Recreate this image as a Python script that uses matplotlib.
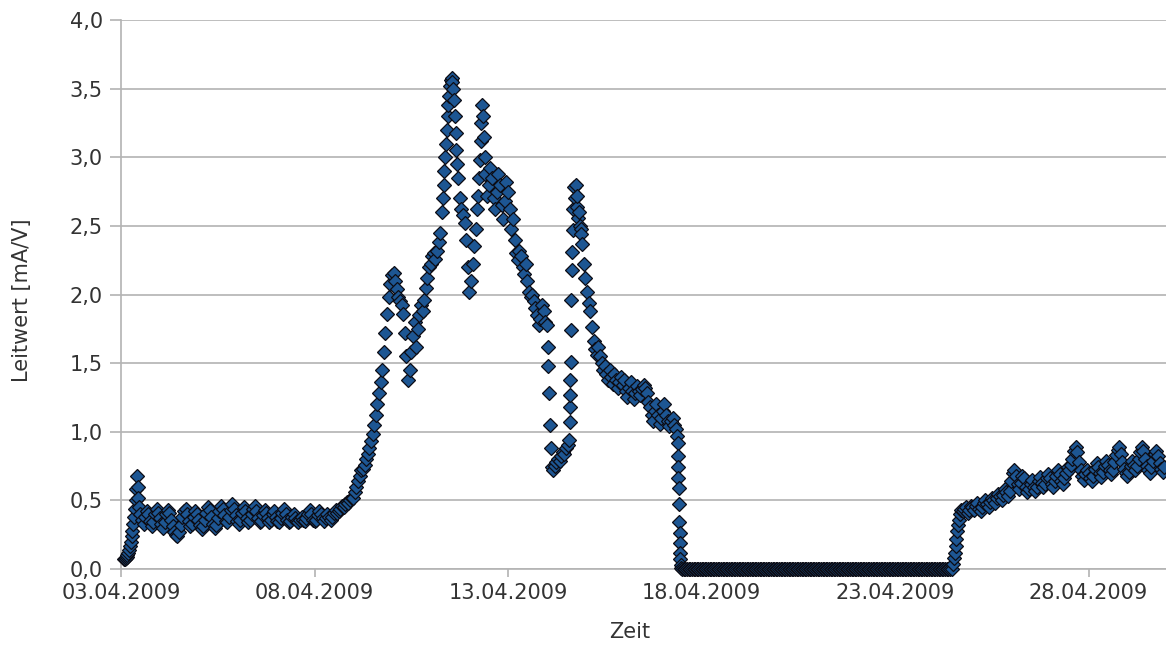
import numpy as np
import pandas as pd
import matplotlib
matplotlib.use("Agg")
import matplotlib.pyplot as plt
import matplotlib.dates as mdates
from matplotlib.ticker import FuncFormatter, MultipleLocator

# hourly readings, one list per day (03.04. starts at 02:00)
day_03 = [0.07, 0.08, 0.10, 0.14, 0.20, 0.28, 0.38, 0.50, 0.68, 0.45, 0.40,
          0.36, 0.33, 0.38, 0.42, 0.40, 0.35, 0.31, 0.34, 0.40, 0.44, 0.41]
day_04 = [0.37, 0.33, 0.30, 0.34, 0.40, 0.43, 0.41, 0.36, 0.31, 0.27, 0.25, 0.24,
          0.27, 0.32, 0.38, 0.42, 0.44, 0.40, 0.35, 0.31, 0.33, 0.38, 0.42, 0.40]
day_05 = [0.36, 0.32, 0.29, 0.31, 0.36, 0.41, 0.45, 0.43, 0.38, 0.33, 0.30, 0.32,
          0.37, 0.42, 0.46, 0.44, 0.39, 0.35, 0.34, 0.38, 0.43, 0.47, 0.44, 0.39]
day_06 = [0.35, 0.33, 0.36, 0.41, 0.45, 0.42, 0.37, 0.34, 0.36, 0.40, 0.44, 0.46,
          0.42, 0.37, 0.34, 0.35, 0.39, 0.43, 0.41, 0.37, 0.34, 0.36, 0.40, 0.42]
day_07 = [0.38, 0.35, 0.34, 0.37, 0.41, 0.44, 0.40, 0.36, 0.34, 0.35, 0.38, 0.40,
          0.37, 0.35, 0.34, 0.36, 0.38, 0.36, 0.35, 0.37, 0.40, 0.43, 0.40, 0.36]
day_08 = [0.35, 0.36, 0.39, 0.42, 0.40, 0.37, 0.35, 0.37, 0.40, 0.38, 0.36, 0.38,
          0.41, 0.43, 0.41, 0.42, 0.44, 0.46, 0.45, 0.47, 0.49, 0.48, 0.50, 0.52]
day_09 = [0.52, 0.56, 0.60, 0.64, 0.68, 0.72, 0.73, 0.76, 0.80, 0.84, 0.88, 0.93,
          0.98, 1.05, 1.12, 1.20, 1.28, 1.36, 1.45, 1.58, 1.72, 1.86, 1.98, 2.08]
day_10 = [2.14, 2.16, 2.10, 2.04, 1.98, 1.95, 1.92, 1.86, 1.72, 1.55, 1.38, 1.45,
          1.58, 1.70, 1.80, 1.62, 1.75, 1.85, 1.92, 1.88, 1.96, 2.05, 2.12, 2.20]
day_11 = [2.22, 2.28, 2.30, 2.26, 2.32, 2.38, 2.45, 2.60, 2.80, 3.00, 3.20, 3.38,
          3.52, 3.58, 3.50, 3.30, 3.05, 2.85, 2.70, 2.62, 2.58, 2.52, 2.40, 2.20]
day_12 = [2.02, 2.10, 2.22, 2.35, 2.48, 2.62, 2.85, 3.12, 3.38, 3.15, 2.88, 2.72,
          2.80, 2.92, 2.85, 2.70, 2.62, 2.75, 2.88, 2.80, 2.65, 2.55, 2.68, 2.82]
day_13 = [2.75, 2.62, 2.48, 2.55, 2.40, 2.30, 2.25, 2.32, 2.28, 2.20, 2.15, 2.22,
          2.10, 2.02, 1.98, 2.00, 1.95, 1.90, 1.85, 1.78, 1.82, 1.92, 1.88, 1.80]
day_14 = [1.78, 1.48, 1.05, 0.74, 0.72, 0.75, 0.78, 0.80, 0.79, 0.82, 0.85, 0.84,
          0.88, 0.90, 0.94, 1.74, 2.47, 2.78, 2.80, 2.72, 2.60, 2.48, 2.37, 2.22]
day_15 = [2.12, 2.02, 1.94, 1.88, 1.76, 1.66, 1.60, 1.56, 1.62, 1.55, 1.50, 1.45,
          1.48, 1.42, 1.38, 1.45, 1.40, 1.35, 1.42, 1.38, 1.32, 1.36, 1.40, 1.34]
day_16 = [1.38, 1.30, 1.25, 1.32, 1.36, 1.30, 1.24, 1.28, 1.33, 1.30, 1.27, 1.31,
          1.34, 1.32, 1.28, 1.22, 1.18, 1.12, 1.08, 1.15, 1.20, 1.12, 1.06, 1.10]
day_17 = [1.15, 1.20, 1.12, 1.08, 1.04, 1.08, 1.10, 1.05, 1.02, 0.97, 0.47, 0.03,
          0.0, 0.0, 0.0, 0.0, 0.0, 0.0, 0.0, 0.0, 0.0, 0.0, 0.0, 0.0]
day_18 = [0.0, 0.0, 0.0, 0.0, 0.0, 0.0, 0.0, 0.0, 0.0, 0.0, 0.0, 0.0,
          0.0, 0.0, 0.0, 0.0, 0.0, 0.0, 0.0, 0.0, 0.0, 0.0, 0.0, 0.0]
day_19 = [0.0, 0.0, 0.0, 0.0, 0.0, 0.0, 0.0, 0.0, 0.0, 0.0, 0.0, 0.0,
          0.0, 0.0, 0.0, 0.0, 0.0, 0.0, 0.0, 0.0, 0.0, 0.0, 0.0, 0.0]
day_20 = [0.0, 0.0, 0.0, 0.0, 0.0, 0.0, 0.0, 0.0, 0.0, 0.0, 0.0, 0.0,
          0.0, 0.0, 0.0, 0.0, 0.0, 0.0, 0.0, 0.0, 0.0, 0.0, 0.0, 0.0]
day_21 = [0.0, 0.0, 0.0, 0.0, 0.0, 0.0, 0.0, 0.0, 0.0, 0.0, 0.0, 0.0,
          0.0, 0.0, 0.0, 0.0, 0.0, 0.0, 0.0, 0.0, 0.0, 0.0, 0.0, 0.0]
day_22 = [0.0, 0.0, 0.0, 0.0, 0.0, 0.0, 0.0, 0.0, 0.0, 0.0, 0.0, 0.0,
          0.0, 0.0, 0.0, 0.0, 0.0, 0.0, 0.0, 0.0, 0.0, 0.0, 0.0, 0.0]
day_23 = [0.0, 0.0, 0.0, 0.0, 0.0, 0.0, 0.0, 0.0, 0.0, 0.0, 0.0, 0.0,
          0.0, 0.0, 0.0, 0.0, 0.0, 0.0, 0.0, 0.0, 0.0, 0.0, 0.0, 0.0]
day_24 = [0.0, 0.0, 0.0, 0.0, 0.0, 0.0, 0.0, 0.0, 0.0, 0.0, 0.0, 0.0,
          0.04, 0.12, 0.22, 0.32, 0.40, 0.43, 0.42, 0.44, 0.45, 0.41, 0.43, 0.46]
day_25 = [0.45, 0.43, 0.46, 0.48, 0.44, 0.42, 0.45, 0.48, 0.50, 0.47, 0.45, 0.49,
          0.52, 0.50, 0.48, 0.52, 0.55, 0.53, 0.50, 0.54, 0.58, 0.56, 0.53, 0.57]
day_26 = [0.64, 0.70, 0.72, 0.68, 0.62, 0.58, 0.63, 0.68, 0.66, 0.60, 0.56, 0.58,
          0.62, 0.65, 0.60, 0.57, 0.60, 0.64, 0.67, 0.63, 0.60, 0.62, 0.66, 0.69]
day_27 = [0.66, 0.62, 0.60, 0.64, 0.68, 0.72, 0.69, 0.64, 0.62, 0.66, 0.70, 0.74,
          0.72, 0.76, 0.80, 0.86, 0.89, 0.85, 0.78, 0.72, 0.68, 0.65, 0.69, 0.72]
day_28 = [0.70, 0.66, 0.64, 0.68, 0.73, 0.77, 0.74, 0.70, 0.67, 0.71, 0.75, 0.79,
          0.76, 0.72, 0.69, 0.72, 0.78, 0.83, 0.87, 0.89, 0.84, 0.78, 0.73, 0.70]
day_29 = [0.68, 0.71, 0.75, 0.79, 0.76, 0.72, 0.75, 0.80, 0.85, 0.89, 0.86, 0.80,
          0.75, 0.72, 0.70, 0.74, 0.79, 0.84, 0.86, 0.82, 0.77, 0.73, 0.71, 0.74]

# extra readings logged in between during fast changes
fast_times = ['2009-04-03 02:30', '2009-04-03 03:30', '2009-04-03 04:30',
              '2009-04-03 05:30', '2009-04-03 06:30', '2009-04-03 07:30',
              '2009-04-03 08:30', '2009-04-03 09:30', '2009-04-03 10:20',
              '2009-04-03 10:40',
              '2009-04-11 07:30', '2009-04-11 08:30', '2009-04-11 09:30',
              '2009-04-11 10:30', '2009-04-11 11:30', '2009-04-11 12:30',
              '2009-04-11 13:30', '2009-04-11 14:30', '2009-04-11 15:30',
              '2009-04-11 16:30',
              '2009-04-12 05:30', '2009-04-12 06:30', '2009-04-12 07:30',
              '2009-04-12 08:30', '2009-04-12 09:30',
              '2009-04-14 00:30', '2009-04-14 01:30', '2009-04-14 02:30',
              '2009-04-14 14:10', '2009-04-14 14:20', '2009-04-14 14:30',
              '2009-04-14 14:40', '2009-04-14 14:50', '2009-04-14 15:15',
              '2009-04-14 15:30', '2009-04-14 15:45', '2009-04-14 16:30',
              '2009-04-14 17:30', '2009-04-14 18:30', '2009-04-14 19:30',
              '2009-04-14 20:30', '2009-04-14 21:30',
              '2009-04-17 09:10', '2009-04-17 09:20', '2009-04-17 09:30',
              '2009-04-17 09:40', '2009-04-17 09:50', '2009-04-17 10:10',
              '2009-04-17 10:20', '2009-04-17 10:30', '2009-04-17 10:40',
              '2009-04-17 10:50', '2009-04-17 11:20',
              '2009-04-24 12:30', '2009-04-24 13:30', '2009-04-24 14:30',
              '2009-04-24 15:30']
fast_values = [0.07, 0.09, 0.12, 0.17, 0.24, 0.33, 0.44, 0.58, 0.60, 0.52,
               2.70, 2.90, 3.10, 3.30, 3.45, 3.56, 3.55, 3.42, 3.18, 2.95,
               2.72, 2.98, 3.25, 3.30, 3.00,
               1.62, 1.28, 0.88,
               1.07, 1.18, 1.27, 1.38, 1.51, 1.96, 2.18, 2.31, 2.62,
               2.70, 2.64, 2.56, 2.50, 2.44,
               0.92, 0.82, 0.74, 0.66, 0.59, 0.34, 0.26, 0.19, 0.12, 0.07, 0.01,
               0.08, 0.17, 0.28, 0.36]

day_starts = ['2009-04-03 02:00'] + [f'2009-04-{d:02d} 00:00' for d in range(4, 30)]
day_lists = [day_03, day_04, day_05, day_06, day_07, day_08, day_09, day_10,
             day_11, day_12, day_13, day_14, day_15, day_16, day_17, day_18,
             day_19, day_20, day_21, day_22, day_23, day_24, day_25, day_26,
             day_27, day_28, day_29]

parts = [pd.Series(vals, index=pd.date_range(start, periods=len(vals), freq='h'))
         for start, vals in zip(day_starts, day_lists)]
parts.append(pd.Series(fast_values, index=pd.to_datetime(fast_times)))
series = pd.concat(parts).sort_index()

grid_col = '#b3b3b3'
text_col = '#333333'
fsize = 15

fig = plt.figure(figsize=(11.66, 6.46), dpi=100)
ax = fig.add_axes([0.1038, 0.1192, 0.8962, 0.8498])

ax.plot(series.index, series.values, linestyle='none', marker='D',
        markersize=7.5, markerfacecolor='#1d5693', markeredgecolor='#0c0c14',
        markeredgewidth=0.9, zorder=3, clip_on=False)

ax.set_xlim(pd.Timestamp('2009-04-03'), pd.Timestamp('2009-04-30'))
ax.set_ylim(0, 4)

ax.xaxis.set_major_locator(mdates.DayLocator(bymonthday=[3, 8, 13, 18, 23, 28]))
ax.xaxis.set_major_formatter(mdates.DateFormatter('%d.%m.%Y'))
ax.yaxis.set_major_locator(MultipleLocator(0.5))
ax.yaxis.set_major_formatter(FuncFormatter(lambda v, p: f'{v:.1f}'.replace('.', ',')))

ax.grid(axis='y', color=grid_col, linewidth=1.2)
ax.set_axisbelow(True)
for side in ['top', 'right']:
    ax.spines[side].set_visible(False)
for side in ['left', 'bottom']:
    ax.spines[side].set_color(grid_col)
    ax.spines[side].set_linewidth(1.2)

ax.tick_params(axis='both', colors=grid_col, labelcolor=text_col,
               labelsize=fsize, width=1.2)
ax.tick_params(axis='x', length=6, pad=4)
ax.tick_params(axis='y', length=8, pad=5)

fig.text(630 / 1166, 1 - 632 / 646, 'Zeit', fontsize=fsize, color=text_col,
         ha='center', va='center')
fig.text(22 / 1166, 1 - 300 / 646, 'Leitwert [mA/V]', fontsize=fsize,
         color=text_col, rotation=90, ha='center', va='center')

fig.savefig('out.png', dpi=100)
